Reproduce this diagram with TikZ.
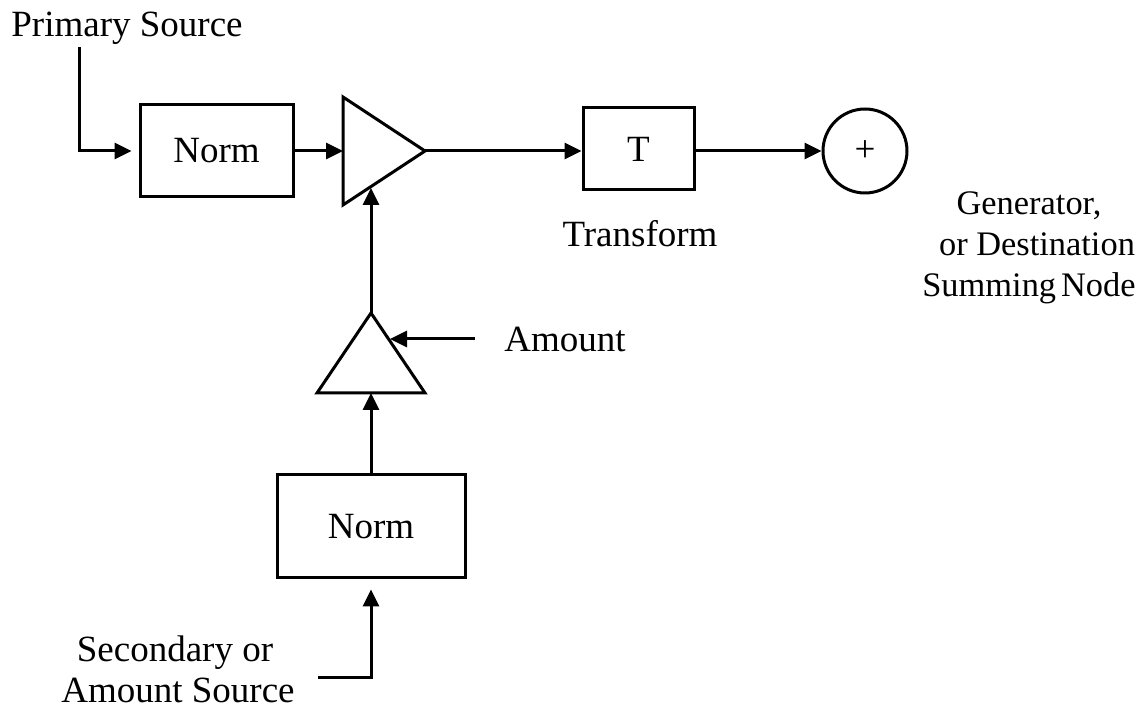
\documentclass[tikz,border=0pt]{standalone}
\usepackage{fontspec}
\setmainfont{Liberation Serif}
\usetikzlibrary{arrows.meta}
\begin{document}
\begin{tikzpicture}[x=0.5pt,y=-0.5pt,
  blk/.style={draw,line width=1.5pt,inner sep=0pt,font=\fontsize{18.5}{20.5}\selectfont},
  lbl/.style={font=\fontsize{18.5}{20.5}\selectfont,inner sep=0pt},
  rlbl/.style={font=\fontsize{17.2}{19}\selectfont,inner sep=0pt},
  conn/.style={line width=1.5pt,-{Triangle[length=8.5pt,width=8pt]}},
  wire/.style={line width=1.5pt,line join=miter}]
\useasboundingbox (0,0) rectangle (1142,710);
% blocks
\node[blk,minimum width=76.5pt,minimum height=46pt] (norm1) at (216.5,151) {Norm};
\node[blk,minimum width=55.5pt,minimum height=41pt] (tbox) at (638.5,149) {T};
\node[blk,circle,minimum size=42pt] (sum) at (865,151) {\raisebox{-2pt}{+}};
\node[blk,minimum width=94pt,minimum height=51.5pt] (norm2) at (371,526.5) {Norm};
% triangles
\coordinate (t1a) at (343,97);
\coordinate (t1b) at (343,205);
\coordinate (t1tip) at (425,151);
\coordinate (t1in) at (343,151);
\coordinate (t1bot) at (371,188);
\draw[wire] (t1a) -- (t1tip) -- (t1b) -- cycle;
\coordinate (t2tip) at (371,313);
\coordinate (t2l) at (317,393);
\coordinate (t2r) at (425,393);
\coordinate (t2base) at (371,393);
\coordinate (t2side) at (390,339);
\draw[wire] (t2tip) -- (t2r) -- (t2l) -- cycle;
% free ends
\coordinate (ps) at (79,47);
\coordinate (amt) at (475,339);
\coordinate (ss) at (318,678);
\coordinate (ssc) at (371,678);
% connectors
\draw[conn,shorten >=3.5pt] (ps) |- (norm1.west);
\draw[conn] (norm1.east) -- (t1in);
\draw[conn] (t1tip) -- (tbox.west |- t1tip);
\draw[conn] (tbox.east |- t1tip) -- (sum.west);
\draw[conn] (t2tip) -- (t1bot);
\draw[conn] (amt) -- (t2side);
\draw[conn] (norm2.north) -- (t2base);
\draw[conn,shorten >=5pt] (ss) -- (ssc) -- (norm2.south);
% labels
\node[lbl,anchor=base] (lps) at (127,37) {Primary Source};
\node[lbl,anchor=base] (ltr) at (640,247) {Transform};
\node[lbl,anchor=base] (lam) at (565,352) {Amount};
\node[rlbl,anchor=base] (lg1) at (1029,215) {Generator,};
\node[rlbl,anchor=base] (lg2) at (1037,256) {or Destination};
\node[rlbl,anchor=base] (lg3) at (1029,297) {Summing\hspace{2.5pt}Node};
\node[lbl,anchor=base] (ls1) at (175,662) {Secondary or};
\node[lbl,anchor=base] (ls2) at (178,703) {Amount Source};
\end{tikzpicture}
\end{document}
